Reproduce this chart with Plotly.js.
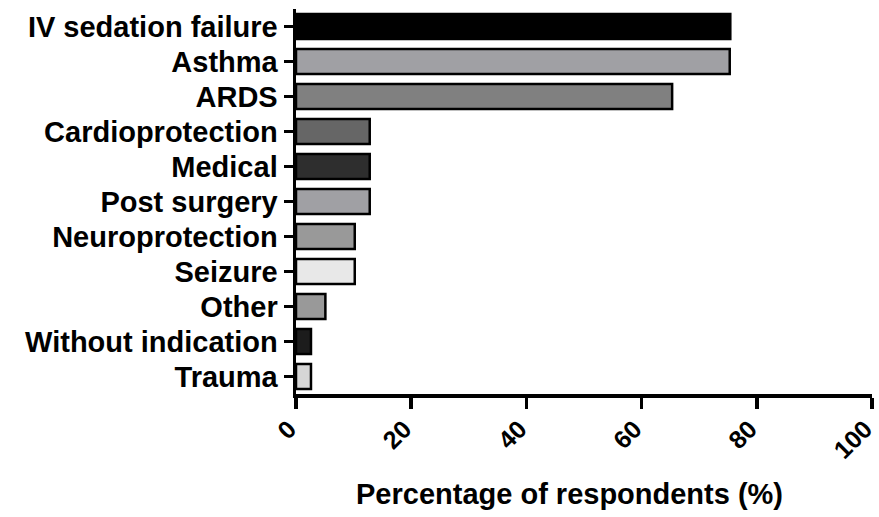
<!DOCTYPE html>
<html>
<head>
<meta charset="utf-8">
<script src="https://cdn.plot.ly/plotly-3.0.1.min.js"></script>
<style>html,body{margin:0;padding:0;background:#fff;}#chart{width:879px;height:517px;}</style>
</head>
<body>
<div id="chart"></div>
<script>
const categories = ["IV sedation failure","Asthma","ARDS","Cardioprotection","Medical","Post surgery","Neuroprotection","Seizure","Other","Without indication","Trauma"];
const percentages = [75.4, 75.3, 65.3, 12.8, 12.8, 12.8, 10.2, 10.2, 5.1, 2.6, 2.6];
const barColors = ["#000000","#a0a0a4","#808080","#666666","#2e2e2e","#a0a0a4","#999999","#e8e8e8","#999999","#1c1c1c","#d6d6d6"];
const xTicks = [0, 20, 40, 60, 80, 100];

const fam = "Liberation Sans, Arial, sans-serif";
const boldFont = {family: fam, size: 29, color: "#000", weight: "bold"};

Plotly.newPlot("chart", [{
  type: "bar",
  orientation: "h",
  y: categories,
  x: percentages,
  width: 0.72,
  marker: {color: barColors, line: {color: "#000", width: 2.5}},
  hoverinfo: "none"
}], {
  width: 879, height: 517,
  margin: {l: 296, r: 7, t: 9, b: 123},
  paper_bgcolor: "#fff", plot_bgcolor: "#fff",
  showlegend: false,
  font: {family: fam, size: 29, color: "#000"},
  xaxis: {
    range: [0, 100], tickvals: xTicks, ticktext: xTicks.map(String),
    tickangle: -45, ticklabeloverflow: "allow",
    ticklabelshift: -7, ticklabelstandoff: -4,
    showline: true, linecolor: "#000", linewidth: 3.5,
    ticks: "outside", ticklen: 11, tickwidth: 3.5, tickcolor: "#000",
    showgrid: false, zeroline: false,
    tickfont: {family: fam, size: 25, color: "#000", weight: "bold"}
  },
  yaxis: {
    type: "category", categoryorder: "array", categoryarray: categories,
    range: [10.5, -0.5], autorange: false,
    showline: true, linecolor: "#000", linewidth: 3.5,
    ticks: "outside", ticklen: 9, tickwidth: 3, tickcolor: "#000",
    showgrid: false, zeroline: false,
    tickfont: boldFont
  },
  annotations: [{
    text: "Percentage of respondents (%)", xref: "paper", yref: "paper",
    x: (569 - 296) / (872 - 296), y: -(494 - 394) / (394 - 9),
    xanchor: "center", yanchor: "middle", showarrow: false,
    font: boldFont
  }]
}, {displayModeBar: false, staticPlot: true});
</script>
</body>
</html>
